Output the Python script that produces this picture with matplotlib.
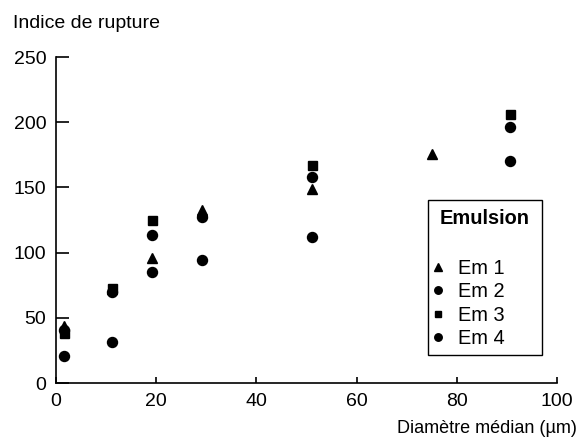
import matplotlib
matplotlib.use("Agg")
import matplotlib.pyplot as plt
from matplotlib.patches import Rectangle

plt.rcParams['font.family'] = ['Liberation Sans', 'DejaVu Sans']

# Data
em1_x = [1.6, 11.2, 19.2, 29.2, 51, 75]
em1_y = [44, 72, 95.5, 132.5, 148.5, 175.5]
em2_x = [1.6, 11.2, 19.2, 29.2, 51, 90.6]
em2_y = [41, 70, 113.5, 127, 158, 196]
em3_x = [1.6, 11.2, 19.2, 51, 90.6]
em3_y = [38, 73, 125, 167.5, 206.5]
em4_x = [1.6, 11.2, 19.2, 29.2, 51, 90.6]
em4_y = [21, 31.5, 85, 94, 112, 170.5]
labels = ["Em 1", "Em 2", "Em 3", "Em 4"]
xticks = [0, 20, 40, 60, 80, 100]
yticks = [0, 50, 100, 150, 200, 250]

W, H = 578, 438
fig = plt.figure(figsize=(W / 100, H / 100), dpi=100)
ax = fig.add_axes([56 / W, (H - 383) / H, (557 - 56) / W, (383 - 57) / H])

ms = 7.2
h1, = ax.plot(em1_x, em1_y, ls='none', marker='^', color='black', ms=ms)
h2, = ax.plot(em2_x, em2_y, ls='none', marker='o', color='black', ms=ms)
h3, = ax.plot(em3_x, em3_y, ls='none', marker='s', color='black', ms=ms * 0.9)
h4, = ax.plot(em4_x, em4_y, ls='none', marker='o', color='black', ms=ms)

ax.set_xlim(0, 100)
ax.set_ylim(0, 250)
ax.set_xticks(xticks)
ax.set_yticks(yticks)
ax.spines['top'].set_visible(False)
ax.spines['right'].set_visible(False)
for s in ('left', 'bottom'):
    ax.spines[s].set_linewidth(1.2)
ax.tick_params(axis='x', direction='in', length=4, width=1.2, pad=7, labelsize=14)
ax.tick_params(axis='y', direction='in', length=9, width=1.2, pad=7, labelsize=14)

fig.text(13 / W, 1 - 28 / H, "Indice de rupture", fontsize=14, va='baseline', ha='left')
fig.text(577 / W, 1 - 433 / H, "Diamètre médian (µm)", fontsize=13, va='baseline', ha='right')

# Legend box
fig.patches.append(Rectangle((428 / W, 1 - 355 / H), (542 - 428) / W, (355 - 200) / H,
                             transform=fig.transFigure, fill=True, facecolor='white',
                             edgecolor='black', linewidth=1.0, zorder=5))
fig.text(440 / W, 1 - 219 / H, "Emulsion", fontsize=14.4, fontweight='bold',
         va='center', ha='left', zorder=6)
leg = fig.legend([h1, h2, h3, h4], labels, loc='upper left',
                 bbox_to_anchor=(432 / W, 1 - 259 / H), bbox_transform=fig.transFigure,
                 frameon=False, fontsize=14.4, markerscale=0.75, handlelength=0.6,
                 handletextpad=0.7, labelspacing=0.22, borderpad=0, borderaxespad=0)
leg.set_zorder(7)

fig.savefig("out.png", dpi=100)
